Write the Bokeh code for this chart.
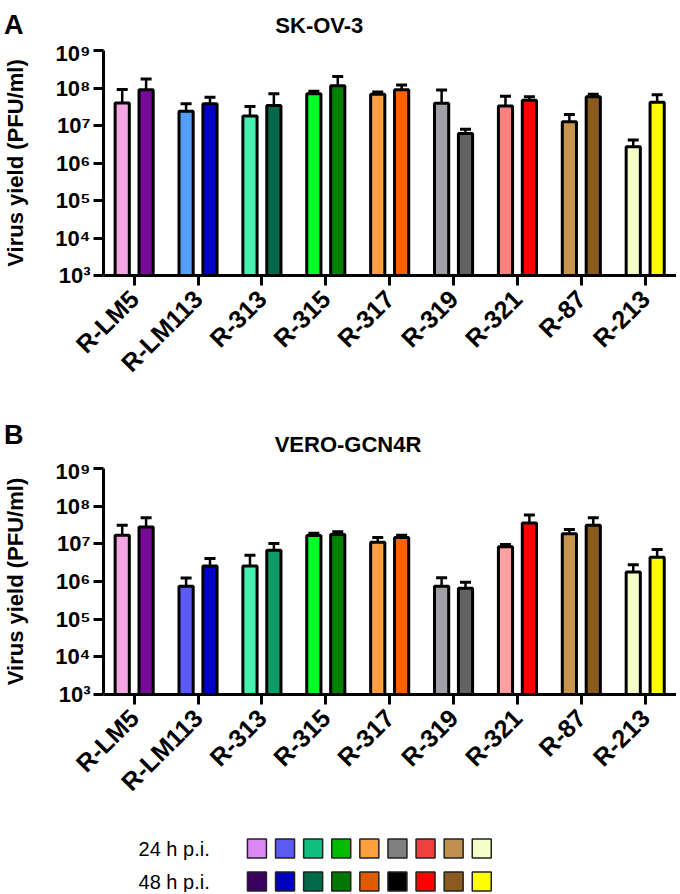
import math
from bokeh.plotting import figure
from bokeh.models import (Range1d, FixedTicker, CustomJSTickFormatter, Whisker,
                          ColumnDataSource, TeeHead)
from bokeh.layouts import column
from bokeh.core.properties import value
from bokeh.embed import file_html
from bokeh.resources import INLINE

# ---------------- data ----------------
groups = ["R-LM5", "R-LM113", "R-313", "R-315", "R-317", "R-319", "R-321", "R-87", "R-213"]
series = ["24 h p.i.", "48 h p.i."]
y_ticks = [1e3, 1e4, 1e5, 1e6, 1e7, 1e8, 1e9]
panel_letters = ["A", "B"]
panel_titles = ["SK-OV-3", "VERO-GCN4R"]

# Panel A: SK-OV-3  (mean and SD, PFU/ml)
a_24 = [4.0e7, 2.4e7, 1.8e7, 7.0e7, 6.8e7, 3.9e7, 3.3e7, 1.26e7, 2.7e6]
a_24_sd = [5.1e7, 1.4e7, 1.4e7, 1.2e7, 1.0e7, 4.9e7, 2.7e7, 7.1e6, 1.4e6]
a_48 = [9.0e7, 3.8e7, 3.4e7, 1.15e8, 9.0e7, 6.1e6, 4.7e7, 5.8e7, 4.2e7]
a_48_sd = [8.5e7, 1.9e7, 3.6e7, 8.7e7, 3.1e7, 1.9e6, 1.1e7, 1.0e7, 2.4e7]

# Panel B: VERO-GCN4R
b_24 = [1.7e7, 7.5e5, 2.57e6, 1.67e7, 1.1e7, 7.5e5, 8.4e6, 1.85e7, 1.8e6]
b_24_sd = [1.4e7, 4.8e5, 2.43e6, 2.5e6, 3.8e6, 5.1e5, 1.2e6, 5.5e6, 1.0e6]
b_48 = [2.8e7, 2.57e6, 6.8e6, 1.78e7, 1.48e7, 6.6e5, 3.6e7, 3.1e7, 4.4e6]
b_48_sd = [2.1e7, 1.53e6, 3.4e6, 3.2e6, 2.2e6, 3.0e5, 2.2e7, 1.8e7, 2.7e6]

a_24_colors = ["#F4A6E4", "#559EF7", "#45F0B0", "#00FF2A", "#FF9F40", "#A0A0A6", "#FF8080", "#C8954F", "#F5FFC8"]
a_48_colors = ["#770A99", "#0000C8", "#056848", "#008000", "#FF6000", "#626262", "#FF0000", "#8B5A1E", "#FFFF00"]
b_24_colors = ["#F4A6E4", "#5A5AF7", "#45F0B0", "#00FF2A", "#FF9F40", "#A0A0A6", "#FFA0A0", "#C8954F", "#F5FFC8"]
b_48_colors = ["#770A99", "#0000C8", "#109A68", "#008000", "#FF6000", "#626262", "#FF0000", "#8B5A1E", "#FFFF00"]
legend_24_colors = ["#DD88F5", "#5A5AF5", "#10C080", "#00BB00", "#FFA040", "#808080", "#F04040", "#C09050", "#F2FFC8"]
legend_48_colors = ["#3A0060", "#0000C0", "#006A48", "#007700", "#E05A00", "#000000", "#FF0000", "#8B5A20", "#FFFF00"]

FONT = "Liberation Sans"
OFF = 0.187
BAR_W = 0.222
W = 676
LEFT = 99
XR = (-0.48, 8.49)


def header(height, letter, letter_y, title, title_x, title_base):
    h = figure(width=W, height=height, x_range=Range1d(*XR), y_range=Range1d(height, 0),
               output_backend="svg", toolbar_location=None,
               min_border_left=LEFT, min_border_right=0, min_border_top=0, min_border_bottom=0,
               x_axis_location=None, y_axis_location="left")
    h.grid.visible = False
    h.outline_line_color = None
    ya = h.yaxis[0]
    ya.ticker = FixedTicker(ticks=[letter_y])
    ya.formatter = CustomJSTickFormatter(args=dict(t=letter), code="return t;")
    ya.axis_line_color = None
    ya.major_tick_line_color = None
    ya.minor_tick_line_color = None
    ya.major_tick_out = 0
    ya.major_tick_in = 0
    ya.major_label_standoff = 80
    ya.major_label_text_font = FONT
    ya.major_label_text_font_size = "27px"
    ya.major_label_text_font_style = "bold"
    ya.major_label_text_color = "black"
    h.text(x=[title_x], y=[title_base], text=[title], text_baseline="alphabetic",
           text_font=value(FONT), text_font_size="22px", text_font_style="bold", text_color="black")
    return h


def panel(v24, sd24, v48, sd48, c24, c48, height, top, frame_h):
    p = figure(width=W, height=height, y_axis_type="log",
               x_range=Range1d(*XR), y_range=Range1d(1e3, 1e9),
               output_backend="svg", toolbar_location=None,
               min_border_left=LEFT, min_border_right=0,
               min_border_top=top, min_border_bottom=height - top - frame_h)
    p.outline_line_color = None
    p.grid.visible = False

    idx = list(range(len(groups)))
    xs = [i - OFF for i in idx] + [i + OFF for i in idx]
    tops = v24 + v48
    ups = [m + s for m, s in zip(v24, sd24)] + [m + s for m, s in zip(v48, sd48)]
    src = ColumnDataSource(dict(x=xs, top=tops, up=ups, color=c24 + c48))
    p.vbar(x="x", top="top", bottom=1e3, width=BAR_W, fill_color="color",
           line_color="black", line_width=3, source=src)
    w = Whisker(base="x", lower="top", upper="up", source=src, dimension="height",
                line_color="black", line_width=2.5,
                upper_head=TeeHead(size=11, line_width=3, line_color="black"),
                lower_head=TeeHead(size=1, line_alpha=0))
    p.add_layout(w)

    xa = p.xaxis[0]
    xa.ticker = FixedTicker(ticks=idx)
    xa.formatter = CustomJSTickFormatter(args=dict(names=groups),
                                         code="const n = names[Math.round(tick)]; return n == null ? '' : n;")
    xa.major_label_orientation = math.pi / 4
    xa.major_label_text_font = FONT
    xa.major_label_text_font_size = "25px"
    xa.major_label_text_font_style = "bold"
    xa.major_label_text_color = "black"
    xa.major_label_standoff = 9
    xa.axis_line_width = 3
    xa.major_tick_line_width = 3
    xa.major_tick_out = 10
    xa.major_tick_in = 0
    xa.minor_tick_line_color = None

    ya = p.yaxis[0]
    ya.ticker = FixedTicker(ticks=y_ticks)
    ya.formatter = CustomJSTickFormatter(
        code="const s = ['\u2070','\u00b9','\u00b2','\u00b3','\u2074','\u2075','\u2076','\u2077','\u2078','\u2079']; return '10' + s[Math.round(Math.log10(tick))];")
    ya.major_label_text_font = FONT
    ya.major_label_text_font_size = "22px"
    ya.major_label_text_font_style = "bold"
    ya.major_label_text_color = "black"
    ya.major_label_standoff = 3
    ya.axis_line_width = 3
    ya.major_tick_line_width = 3
    ya.major_tick_out = 10
    ya.major_tick_in = 0
    ya.minor_tick_line_color = None
    ya.axis_label = "Virus yield (PFU/ml)"
    ya.axis_label_text_font = FONT
    ya.axis_label_text_font_size = "22px"
    ya.axis_label_text_font_style = "bold"
    ya.axis_label_text_color = "black"
    ya.axis_label_standoff = 24
    return p


hA = header(40, panel_letters[0], 6, panel_titles[0], 2.21, 25)
pA = panel(a_24, a_24_sd, a_48, a_48_sd, a_24_colors, a_48_colors,
           height=359, top=10, frame_h=225)
hB = header(59, panel_letters[1], 35, panel_titles[1], 2.20, 45)
pB = panel(b_24, b_24_sd, b_48, b_48_sd, b_24_colors, b_48_colors,
           height=361, top=10, frame_h=226)

# ---------------- legend ----------------
pL = figure(width=W, height=73, x_range=Range1d(-5.46, 14.93), y_range=Range1d(1 + 11 / 33, -29 / 33),
            output_backend="svg", toolbar_location=None,
            min_border_left=LEFT, min_border_right=0, min_border_top=0, min_border_bottom=0,
            x_axis_location=None, y_axis_location=None)
pL.grid.visible = False
pL.outline_line_color = None
n = len(groups)
pL.rect(x=list(range(n)) * 2, y=[0] * n + [1] * n, width=19, height=19,
        width_units="screen", height_units="screen",
        fill_color=legend_24_colors + legend_48_colors, line_color="#222222", line_width=1.5)
pL.text(x=[-1.68, -1.68], y=[0, 1], text=series, text_align="right", text_baseline="middle",
        text_font=value(FONT), text_font_size="20px", text_color="black")

layout = column(hA, pA, hB, pB, pL, spacing=0)
open("out.html", "w").write(file_html(layout, INLINE))
